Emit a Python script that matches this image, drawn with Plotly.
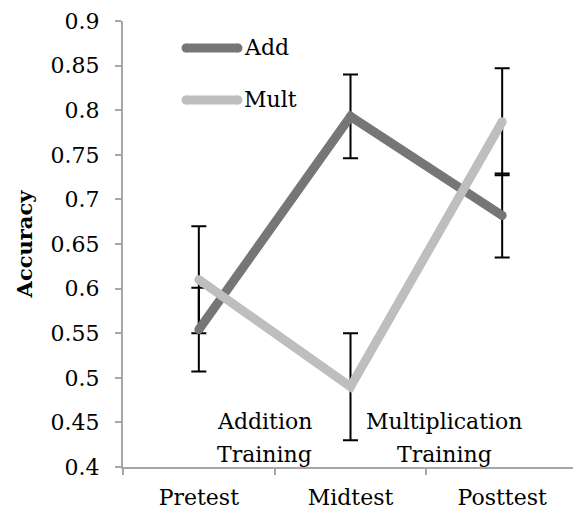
import plotly.graph_objects as go

categories = ["Pretest", "Midtest", "Posttest"]
add_vals = [0.554, 0.793, 0.682]
add_err = [0.047, 0.047, 0.047]
mult_vals = [0.610, 0.490, 0.787]
mult_err = [0.060, 0.060, 0.060]
ytick_vals = [0.4, 0.45, 0.5, 0.55, 0.6, 0.65, 0.7, 0.75, 0.8, 0.85, 0.9]
ytick_text = ["0.4", "0.45", "0.5", "0.55", "0.6", "0.65", "0.7", "0.75", "0.8", "0.85", "0.9"]
series_names = ["Add", "Mult"]

ADD_C = "#767676"
MULT_C = "#BEBEBE"
FONT = "DejaVu Serif"

fig = go.Figure()
for vals, errs in [(add_vals, add_err), (mult_vals, mult_err)]:
    fig.add_trace(go.Scatter(
        x=categories, y=vals, mode="markers",
        marker=dict(size=1, color="rgba(0,0,0,0)"),
        error_y=dict(type="data", array=errs, visible=True, color="black", thickness=2, width=7.5),
        showlegend=False, hoverinfo="skip"))

for name, vals, color in [(series_names[0], add_vals, ADD_C), (series_names[1], mult_vals, MULT_C)]:
    fig.add_trace(go.Scatter(x=categories, y=vals, mode="lines+markers", name=name,
                             line=dict(color=color, width=9),
                             marker=dict(size=9, color=color, line=dict(width=0)),
                             showlegend=False))

# manual legend (rounded line samples)
for name, color, yp in [(series_names[0], ADD_C, 0.9395), (series_names[1], MULT_C, 0.8229)]:
    x0, x1 = 0.1385, 0.2527
    fig.add_shape(type="line", xref="paper", yref="paper", x0=x0, x1=x1, y0=yp, y1=yp,
                  line=dict(color=color, width=9))
    for xe in (x0, x1):
        fig.add_shape(type="circle", xref="paper", yref="paper", xsizemode="pixel", ysizemode="pixel",
                      xanchor=xe, yanchor=yp, x0=-4.5, x1=4.5, y0=-4.5, y1=4.5,
                      fillcolor=color, line=dict(width=0))
    fig.add_annotation(xref="paper", yref="paper", x=0.2615, y=yp, text=name, showarrow=False,
                       xanchor="left", yanchor="middle", font=dict(family=FONT, size=22, color="black"))

for txt, xv, yv in [("Addition", 0.434, 0.4505), ("Training", 0.434, 0.4135),
                    ("Multiplication", 1.618, 0.4505), ("Training", 1.618, 0.4135)]:
    fig.add_annotation(x=xv, y=yv, text=txt, showarrow=False, xanchor="center", yanchor="middle",
                       font=dict(family=FONT, size=22, color="black"))

# page body has an 8px margin, so the figure is 8px smaller and margins shifted
fig.update_layout(
    width=573, height=508,
    margin=dict(l=115, r=3, t=13, b=49, autoexpand=False),
    paper_bgcolor="white", plot_bgcolor="white",
    font=dict(family=FONT, size=22, color="black"),
    xaxis=dict(type="category", range=[-0.5, 2.5], showgrid=False, zeroline=False,
               showline=True, linecolor="#A6A6A6", linewidth=2,
               ticks="outside", tickson="boundaries", ticklen=6, tickcolor="#A6A6A6", tickwidth=2,
               ticklabelstandoff=10,
               tickfont=dict(family=FONT, size=22, color="black")),
    yaxis=dict(range=[0.4, 0.9], tickvals=ytick_vals, ticktext=ytick_text, showgrid=False,
               zeroline=False, showline=True, linecolor="#A6A6A6", linewidth=2,
               ticks="outside", ticklen=6, tickcolor="#A6A6A6", tickwidth=2,
               ticklabelstandoff=11,
               tickfont=dict(family=FONT, size=22, color="black"),
               title=dict(text="<b>Accuracy</b>", font=dict(family=FONT, size=21, color="black"), standoff=12)),
)

fig.write_html("out.html")
